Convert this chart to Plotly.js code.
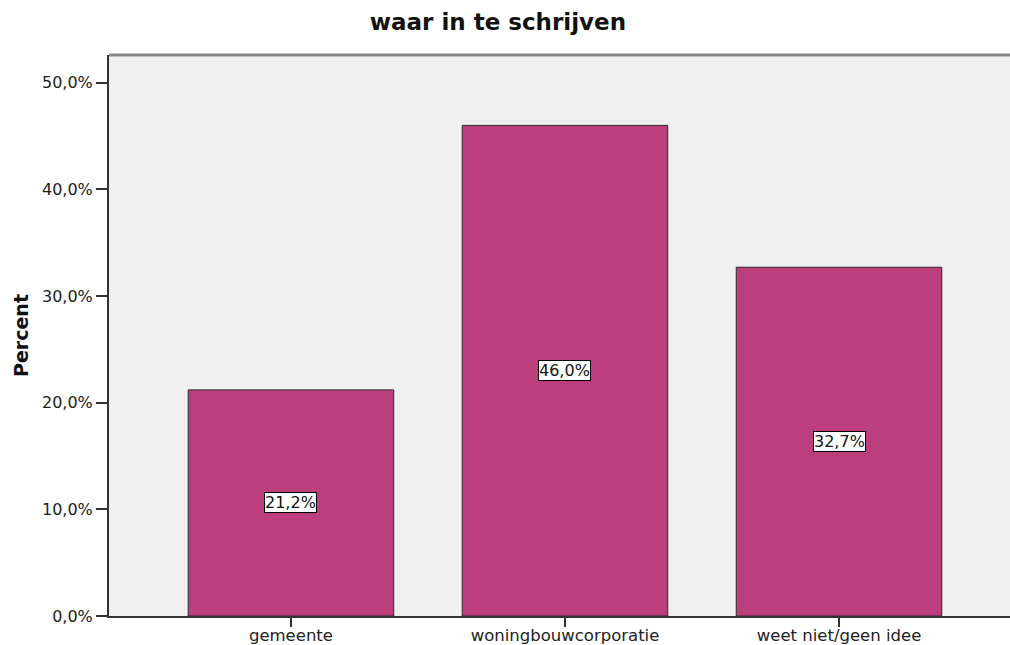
<!DOCTYPE html>
<html>
<head>
<meta charset="utf-8">
<script src="https://cdn.plot.ly/plotly-3.0.1.min.js"></script>
<style>html,body{margin:0;padding:0;background:#fff;}#chart{width:1010px;height:645px;}</style>
</head>
<body>
<div id="chart"></div>
<script>
const categories = ["gemeente", "woningbouwcorporatie", "weet niet/geen idee"];
const percentValues = [21.2, 46.0, 32.7];
const valueLabels = ["21,2%", "46,0%", "32,7%"];
const yTickValues = [0, 10, 20, 30, 40, 50];
const yTickLabels = ["0,0%", "10,0%", "20,0%", "30,0%", "40,0%", "50,0%"];
const chartTitle = "waar in te schrijven";
const yTitle = "Percent";

const positions = categories.map((c, i) => i);

const trace = {
  type: "bar",
  x: positions,
  y: percentValues,
  width: 0.75,
  marker: {color: "#BA3F7C", line: {color: "#2a2a2a", width: 1}},
  hoverinfo: "skip"
};

// invisible helper trace for the long tick marks axis
const tickTrace = {
  type: "scatter", mode: "markers", x: positions, y: percentValues,
  xaxis: "x2", yaxis: "y", marker: {opacity: 0}, hoverinfo: "skip"
};

const annotations = percentValues.map((v, i) => ({
  x: i, y: v / 2, xref: "x", yref: "y",
  text: valueLabels[i], showarrow: false,
  font: {family: "DejaVu Sans", size: 16, color: "#111"},
  bgcolor: "#ffffff", bordercolor: "#000", borderwidth: 1, borderpad: 0
}));

const xRange = [-0.664, 2.624];

const layout = {
  width: 1010, height: 645,
  margin: {l: 109, r: 0, t: 55, b: 29, pad: 0},
  paper_bgcolor: "#ffffff",
  plot_bgcolor: "#F0F0F0",
  showlegend: false,
  title: {text: "<b>" + chartTitle + "</b>", font: {family: "DejaVu Sans", size: 23, color: "#111"}, x: 0.493, xanchor: "center", xref: "container", y: 0.966, yanchor: "middle"},
  xaxis: {
    range: xRange,
    tickvals: positions, ticktext: categories,
    ticks: "outside", ticklen: 3, tickwidth: 2, tickcolor: "#333",
    showline: true, linecolor: "#333", linewidth: 2,
    showgrid: false, zeroline: false,
    tickfont: {family: "DejaVu Sans", size: 16.5, color: "#222"}, fixedrange: true
  },
  xaxis2: {
    overlaying: "x", matches: "x", range: xRange, side: "bottom",
    tickvals: positions, showticklabels: false,
    ticks: "outside", ticklen: 10, tickwidth: 2, tickcolor: "#333",
    showline: false, showgrid: false, zeroline: false, fixedrange: true
  },
  yaxis: {
    range: [0, 52.6],
    tickvals: yTickValues, ticktext: yTickLabels,
    ticks: "outside", ticklen: 11, tickwidth: 2, tickcolor: "#333",
    showline: true, linecolor: "#333", linewidth: 2,
    showgrid: false, zeroline: false,
    tickfont: {family: "DejaVu Sans", size: 16, color: "#222"},
    title: {text: "<b>" + yTitle + "</b>", font: {family: "DejaVu Sans", size: 19, color: "#111"}, standoff: 8},
    fixedrange: true
  },
  shapes: [{type: "line", xref: "paper", yref: "paper", x0: 0, x1: 1, y0: 1, y1: 1, line: {color: "#888", width: 3}}],
  annotations: annotations,
  bargap: 0
};

Plotly.newPlot("chart", [trace, tickTrace], layout, {displayModeBar: false, staticPlot: true});
</script>
</body>
</html>
